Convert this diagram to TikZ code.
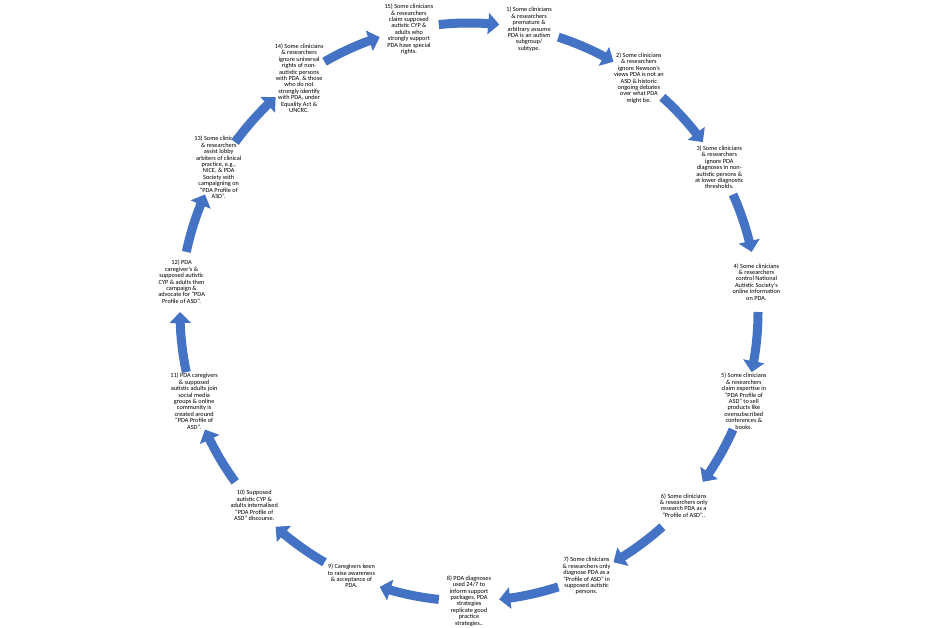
\documentclass[tikz,border=0pt]{standalone}
\usepackage{fontspec}
\setmainfont{Carlito}
\usetikzlibrary{arrows.meta,bending,calc}
\definecolor{arrowblue}{HTML}{4472C4}
\tikzset{
  lbl/.style={align=center, font=\fontsize{6.3}{6.4}\selectfont, inner sep=0pt, text=black},
  cyc/.style={draw=arrowblue, line width=9pt, -{Triangle[width=21pt,length=11pt]}}
}
\begin{document}
\begin{tikzpicture}[x=1pt,y=-1pt]
\useasboundingbox (0,0) rectangle (940,628);
\fill[white] (0,0) rectangle (940,628);
\coordinate (c) at (469,312);
\def\R{289}
% text nodes
\node[lbl] (t1) at ($(c)+(-78:\R)$) {1) Some clinicians\\ \& researchers\\ premature \&\\ arbitrary assume\\ PDA is an autism\\ subgroup/\\ subtype.};
\node[lbl] (t2) at ($(c)+(-54:\R)$) {2) Some clinicians\\ \& researchers\\ ignore Newson’s\\ views PDA is not an\\ ASD \& historic\\ ongoing debates\\ over what PDA\\ might be.};
\node[lbl] (t3) at ($(c)+(-30:\R)$) {3) Some clinicians\\ \& researchers\\ ignore PDA\\ diagnoses in non-\\ autistic persons \&\\ at lower diagnostic\\ thresholds.};
\node[lbl] (t4) at ($(c)+(-6:\R)$) {4) Some clinicians\\ \& researchers\\ control National\\ Autistic Society’s\\ online information\\ on PDA.};
\node[lbl] (t5) at ($(c)+(18:\R)$) {5) Some clinicians\\ \& researchers\\ claim expertise in\\ “PDA Profile of\\ ASD” to sell\\ products like\\ oversubscribed\\ conferences \&\\ books.};
\node[lbl] (t6) at ($(c)+(42:\R)$) {6) Some clinicians\\ \& researchers only\\ research PDA as a\\ “Profile of ASD”..};
\node[lbl] (t7) at ($(c)+(66:\R)$) {7) Some clinicians\\ \& researchers only\\ diagnose PDA as a\\ “Profile of ASD” in\\ supposed autistic\\ persons.};
\node[lbl] (t8) at ($(c)+(90:\R)$) {8) PDA diagnoses\\ used 24/7 to\\ inform support\\ packages, PDA\\ strategies\\ replicate good\\ practice\\ strategies..};
\node[lbl] (t9) at ($(c)+(114:\R)$) {9) Caregivers keen\\ to raise awareness\\ \& acceptance of\\ PDA.};
\node[lbl] (t10) at ($(c)+(138:\R)$) {10) Supposed\\ autistic CYP \&\\ adults internalised\\ “PDA Profile of\\ ASD” discourse.};
\node[lbl] (t11) at ($(c)+(162:\R)$) {11) PDA caregivers\\ \& supposed\\ autistic adults join\\ social media\\ groups \& online\\ community is\\ created around\\ “PDA Profile of\\ ASD”.};
\node[lbl] (t12) at ($(c)+(186:\R)$) {12) PDA\\ caregiver’s \&\\ supposed autistic\\ CYP \& adults then\\ campaign \&\\ advocate for “PDA\\ Profile of ASD”.};
\node[lbl] (t13) at ($(c)+(210:\R)$) {13) Some clinicians\\ \& researchers\\ assist lobby\\ arbiters of clinical\\ practice, e.g.,\\ NICE, \& PDA\\ Society with\\ campaigning on\\ “PDA Profile of\\ ASD”.};
\node[lbl] (t14) at ($(c)+(234:\R)$) {14) Some clinicians\\ \& researchers\\ ignore universal\\ rights of non-\\ autistic persons\\ with PDA, \& those\\ who do not\\ strongly identify\\ with PDA, under\\ Equality Act \&\\ UNCRC.};
\node[lbl] (t15) at ($(c)+(258:\R)$) {15) Some clinicians\\ \& researchers\\ claim supposed\\ autistic CYP \&\\ adults who\\ strongly support\\ PDA have special\\ rights.};
% arrows
\foreach \k in {1,...,15}{
  \pgfmathsetmacro\sa{-96+24*(\k-1)}
  \pgfmathsetmacro\ea{-84+24*(\k-1)}
  \coordinate (s\k) at ($(c)+(\sa:\R)$);
  \draw[cyc] (s\k) arc[start angle=\sa, end angle=\ea, radius=\R];
}
\end{tikzpicture}
\end{document}
